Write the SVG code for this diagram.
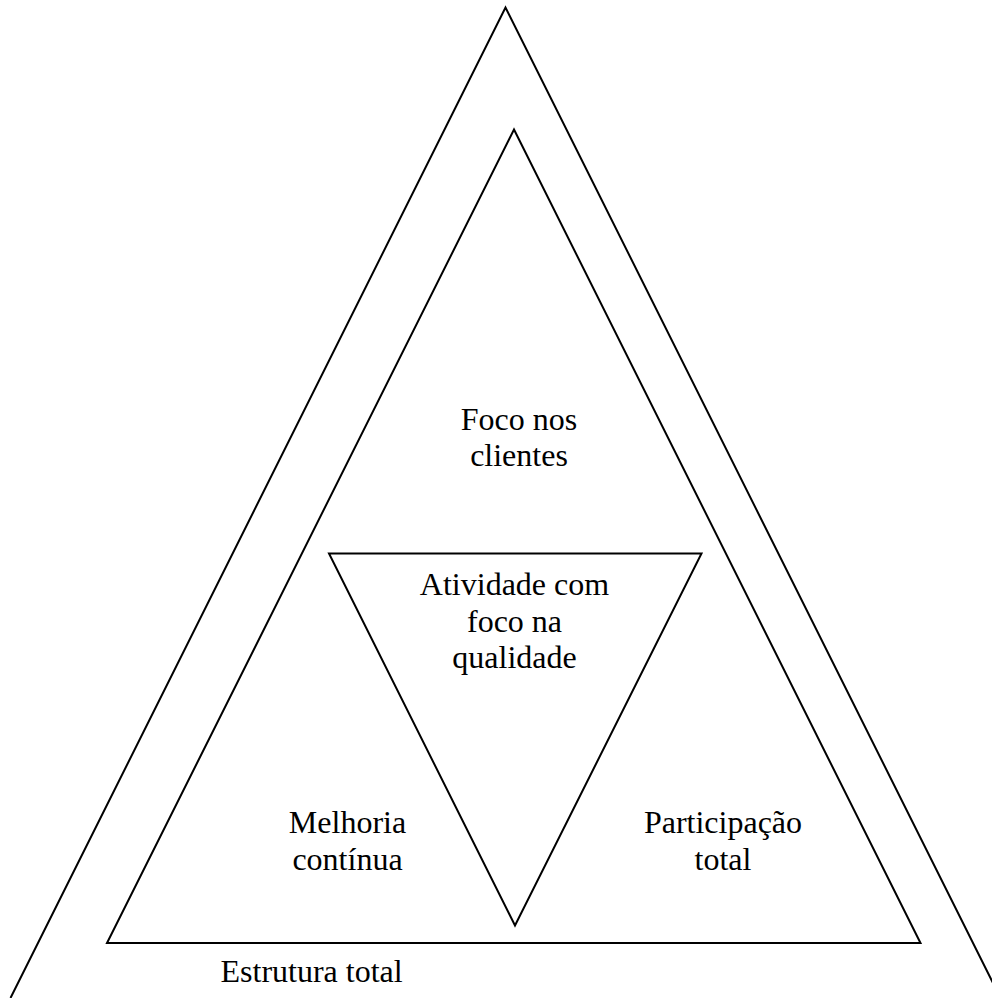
<svg xmlns="http://www.w3.org/2000/svg" width="992" height="998" viewBox="0 0 992 998">
<style>
.tri{fill:none;stroke:#000;stroke-width:2;stroke-linejoin:miter}
.t{font-family:"Liberation Serif","Times New Roman",serif;font-size:32px;fill:#000;text-anchor:middle}
</style>
<rect width="992" height="998" fill="#fff"/>
<g id="outer">
<polyline class="tri" points="10.5,998 505.5,7.5 1000.5,998"/>
<text class="t" x="220.5" y="981.5" style="text-anchor:start">Estrutura total</text>
</g>
<g id="inner">
<polygon class="tri" points="514,129.5 920.5,943 107,943"/>
<text class="t" x="519" y="429.5">Foco nos</text>
<text class="t" x="519" y="466">clientes</text>
</g>
<g id="center">
<polygon class="tri" points="329,553.5 701.5,553.5 515,925.5"/>
<text class="t" x="514.5" y="595">Atividade com</text>
<text class="t" x="514.5" y="631.7">foco na</text>
<text class="t" x="514.5" y="668.4">qualidade</text>
</g>
<g id="melhoria">
<text class="t" x="347.5" y="833.3">Melhoria</text>
<text class="t" x="347.5" y="870">contínua</text>
</g>
<g id="participacao">
<text class="t" x="723" y="833.3">Participação</text>
<text class="t" x="723" y="870">total</text>
</g>
<g id="connectors"></g>
</svg>
